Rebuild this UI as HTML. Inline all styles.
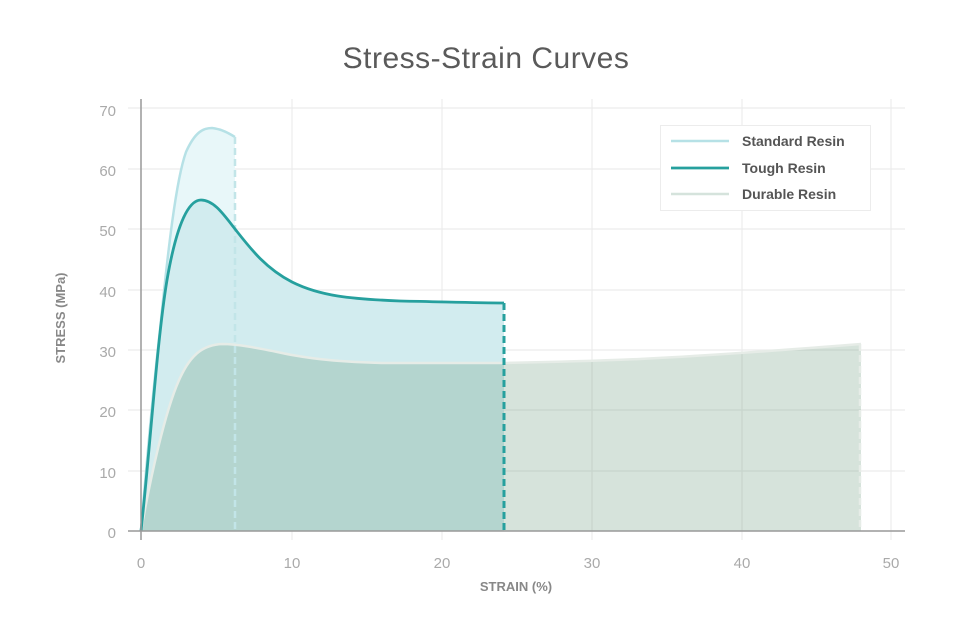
<!DOCTYPE html>
<html><head><meta charset="utf-8"><style>
html,body{margin:0;padding:0;background:#fff;}
svg{display:block;font-family:"Liberation Sans",sans-serif;}
</style></head><body>
<svg width="980" height="620" viewBox="0 0 980 620" xmlns="http://www.w3.org/2000/svg">
<rect width="980" height="620" fill="#fff"/>
<text x="486" y="68" text-anchor="middle" font-size="30" fill="#5a5a5a" letter-spacing="0.5">Stress-Strain Curves</text>
<g stroke="#ececec" stroke-width="1.2">
<line x1="128" y1="108" x2="905" y2="108"/>
<line x1="128" y1="169" x2="905" y2="169"/>
<line x1="128" y1="229" x2="905" y2="229"/>
<line x1="128" y1="290" x2="905" y2="290"/>
<line x1="128" y1="350" x2="905" y2="350"/>
<line x1="128" y1="410" x2="905" y2="410"/>
<line x1="128" y1="471" x2="905" y2="471"/>
<line x1="292" y1="99" x2="292" y2="540"/>
<line x1="442" y1="99" x2="442" y2="540"/>
<line x1="592" y1="99" x2="592" y2="540"/>
<line x1="742" y1="99" x2="742" y2="540"/>
<line x1="891" y1="99" x2="891" y2="540"/>
</g>
<path d="M141,531 C146,470 152,400 160,330 C168,250 176,180 186,152 C195,132 203,128 212,128 C222,129 230,134 235,137 L235,531 Z" fill="#e8f7f9"/>
<path d="M141,531 C150,450 157,340 167,280 C177,222 189,200 201,200 C214,200 224,215 235,229 C250,248 265,268 292,282 C320,296 350,299 400,301 C450,302 480,303 504,303 L504,531 Z" fill="#d2ecef"/>
<path d="M141,531 C150,480 165,410 180,378 C192,352 205,345 222,344 C240,344 262,349 292,355 C320,360 345,362 382,363 L503,363 C560,362 593,361 640,359 C700,356 760,352 861,344 L861,531 Z" fill="rgba(90,143,110,0.25)"/>
<path d="M141,531 C146,470 152,400 160,330 C168,250 176,180 186,152 C195,132 203,128 212,128 C222,129 230,134 235,137" fill="none" stroke="#b6e1e6" stroke-width="2.5"/>
<line x1="235" y1="137" x2="235" y2="531" stroke="#c2e5e8" stroke-width="2.5" stroke-dasharray="7,4"/>
<path d="M141,531 C150,480 165,410 180,378 C192,352 205,345 222,344 C240,344 262,349 292,355 C320,360 345,362 382,363 L503,363 C560,362 593,361 640,359 C700,356 760,352 861,344" fill="none" stroke="#e6ece7" stroke-width="2.5"/>
<line x1="860" y1="344" x2="860" y2="531" stroke="#e6ece7" stroke-width="2.5" stroke-dasharray="7,4"/>
<path d="M141,531 C150,450 157,340 167,280 C177,222 189,200 201,200 C214,200 224,215 235,229 C250,248 265,268 292,282 C320,296 350,299 400,301 C450,302 480,303 504,303" fill="none" stroke="#26a09e" stroke-width="2.8"/>
<line x1="504" y1="303" x2="504" y2="531" stroke="#26a09e" stroke-width="3" stroke-dasharray="7,4"/>
<line x1="141" y1="99" x2="141" y2="540" stroke="#999" stroke-width="1.5"/>
<line x1="128" y1="531" x2="905" y2="531" stroke="#999" stroke-width="1.5"/>
<g font-size="15" fill="#aaa" text-anchor="end">
<text x="116" y="116">70</text><text x="116" y="176">60</text><text x="116" y="236">50</text>
<text x="116" y="297">40</text><text x="116" y="357">30</text><text x="116" y="417">20</text>
<text x="116" y="478">10</text><text x="116" y="538">0</text>
</g>
<g font-size="15" fill="#aaa" text-anchor="middle">
<text x="141" y="568">0</text><text x="292" y="568">10</text><text x="442" y="568">20</text>
<text x="592" y="568">30</text><text x="742" y="568">40</text><text x="891" y="568">50</text>
</g>
<text x="516" y="591" text-anchor="middle" font-size="13" font-weight="bold" fill="#888">STRAIN (%)</text>
<text transform="translate(65,318) rotate(-90)" text-anchor="middle" font-size="13" font-weight="bold" fill="#888">STRESS (MPa)</text>
<rect x="660.5" y="125.5" width="210" height="85" fill="#fff" stroke="#ececec"/>
<line x1="671" y1="141" x2="729" y2="141" stroke="#b6e1e6" stroke-width="2.5"/>
<line x1="671" y1="168" x2="729" y2="168" stroke="#26a09e" stroke-width="2.8"/>
<line x1="671" y1="194" x2="729" y2="194" stroke="#d5e3dc" stroke-width="2.5"/>
<g font-size="14" font-weight="bold" fill="#555">
<text x="742" y="146">Standard Resin</text>
<text x="742" y="173">Tough Resin</text>
<text x="742" y="199">Durable Resin</text>
</g>
</svg>
</body></html>
